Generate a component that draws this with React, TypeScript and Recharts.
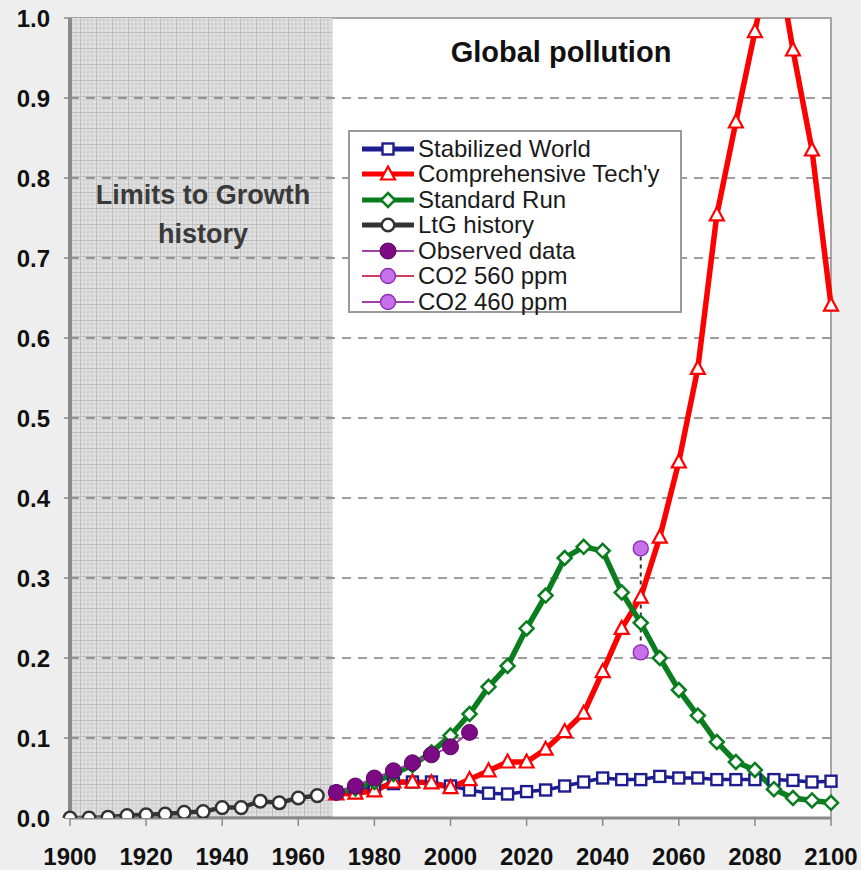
import React from 'react';
import { LineChart, Line, XAxis, YAxis, ReferenceArea, ReferenceLine, Legend } from 'recharts';

const modelYears = [1970, 1975, 1980, 1985, 1990, 1995, 2000, 2005, 2010, 2015, 2020, 2025, 2030, 2035, 2040, 2045, 2050, 2055, 2060, 2065, 2070, 2075, 2080, 2085, 2090, 2095, 2100];
const historyYears = [1900, 1905, 1910, 1915, 1920, 1925, 1930, 1935, 1940, 1945, 1950, 1955, 1960, 1965];
const observedYears = [1970, 1975, 1980, 1985, 1990, 1995, 2000, 2005];

const stabilizedWorld = [0.032, 0.034, 0.038, 0.043, 0.045, 0.045, 0.04, 0.035, 0.031, 0.03, 0.033, 0.035, 0.04, 0.045, 0.05, 0.048, 0.048, 0.052, 0.05, 0.05, 0.048, 0.048, 0.048, 0.048, 0.047, 0.045, 0.046];
const comprehensiveTech = [0.03, 0.031, 0.034, 0.045, 0.045, 0.044, 0.038, 0.048, 0.059, 0.07, 0.07, 0.086, 0.108, 0.131, 0.183, 0.237, 0.276, 0.351, 0.445, 0.562, 0.754, 0.87, 0.983, 1.1, 0.96, 0.835, 0.641];
const standardRun = [0.032, 0.037, 0.045, 0.055, 0.066, 0.082, 0.103, 0.13, 0.164, 0.19, 0.237, 0.278, 0.325, 0.339, 0.334, 0.282, 0.244, 0.2, 0.16, 0.128, 0.095, 0.07, 0.06, 0.036, 0.025, 0.022, 0.019];
const ltgHistory = [0.0, 0.0, 0.001, 0.003, 0.004, 0.005, 0.007, 0.008, 0.013, 0.013, 0.021, 0.019, 0.025, 0.028];
const observedData = [0.032, 0.04, 0.05, 0.059, 0.069, 0.079, 0.089, 0.107];
const co2Years = [2050];
const co2At560 = [0.337];
const co2At460 = [0.207];

const xTicks = [1900, 1920, 1940, 1960, 1980, 2000, 2020, 2040, 2060, 2080, 2100];
const yTicks = [0, 0.1, 0.2, 0.3, 0.4, 0.5, 0.6, 0.7, 0.8, 0.9, 1.0];
const gridLevels = [0.1, 0.2, 0.3, 0.4, 0.5, 0.6, 0.7, 0.8, 0.9];

const toPoints = (years: number[], values: number[]) => years.map((year, i) => ({ year, value: values[i] }));

const NAVY = '#1d1d8f';
const RED = '#ff0000';
const GREEN = '#0a7d1e';
const DARK = '#333333';
const PURPLE = '#7d0a85';
const VIOLET = '#c870ec';

type Shape = 'square' | 'triangle' | 'diamond' | 'open' | 'filled' | 'violet';

function marker(shape: Shape, cx: number, cy: number, color: string, key?: any) {
  switch (shape) {
    case 'square':
      return <rect key={key} x={cx - 5.5} y={cy - 5.5} width={11} height={11} fill="#fff" stroke={color} strokeWidth={2.4} />;
    case 'triangle':
      return <path key={key} d={`M${cx},${cy - 7.5} L${cx + 7},${cy + 5.5} L${cx - 7},${cy + 5.5} Z`} fill="#fff" stroke={color} strokeWidth={2.2} />;
    case 'diamond':
      return <path key={key} d={`M${cx},${cy - 7} L${cx + 7},${cy} L${cx},${cy + 7} L${cx - 7},${cy} Z`} fill="#fff" stroke={color} strokeWidth={2.5} />;
    case 'open':
      return <circle key={key} cx={cx} cy={cy} r={6.3} fill="#fff" stroke={color} strokeWidth={2.5} />;
    case 'filled':
      return <circle key={key} cx={cx} cy={cy} r={8} fill={color} stroke="#5a0660" strokeWidth={1} />;
    case 'violet':
      return <circle key={key} cx={cx} cy={cy} r={7.5} fill={VIOLET} stroke="#8a2fb0" strokeWidth={1.4} />;
  }
}

const makeDot = (shape: Shape, color: string) => (props: any) => {
  const { cx, cy, index } = props;
  if (cx == null || cy == null || isNaN(cx) || isNaN(cy)) return <g key={`e-${index}`} />;
  return marker(shape, cx, cy, color, `d-${shape}-${index}`);
};

const legendItems: { name: string; color: string; shape: Shape; width: number }[] = [
  { name: 'Stabilized World', color: NAVY, shape: 'square', width: 5 },
  { name: "Comprehensive Tech'y", color: RED, shape: 'triangle', width: 5 },
  { name: 'Standard Run', color: GREEN, shape: 'diamond', width: 5 },
  { name: 'LtG history', color: DARK, shape: 'open', width: 5 },
  { name: 'Observed data', color: '#a040a8', shape: 'filled', width: 2 },
  { name: 'CO2 560 ppm', color: '#d04060', shape: 'violet', width: 2 },
  { name: 'CO2 460 ppm', color: '#a040a8', shape: 'violet', width: 2 },
];

const LegendBox = () => (
  <div
    style={{
      width: 334,
      height: 183,
      boxSizing: 'border-box',
      background: '#fff',
      border: '2px solid #9a9a9a',
      padding: '4px 0 0 10px',
      fontFamily: '"Liberation Sans", Arial, sans-serif',
      fontSize: 24,
      color: '#1a1a1a',
    }}
  >
    {legendItems.map((it) => (
      <div key={it.name} style={{ display: 'flex', alignItems: 'center', height: 25.5, whiteSpace: 'nowrap' }}>
        <svg width={57} height={22} style={{ flex: 'none' }}>
          <line x1={2} y1={11} x2={54} y2={11} stroke={it.shape === 'filled' ? '#a040a8' : it.color} strokeWidth={it.width} />
          {marker(it.shape, 28, 11, it.shape === 'filled' ? PURPLE : it.color)}
        </svg>
        <span style={{ marginLeft: 1 }}>{it.name}</span>
      </div>
    ))}
  </div>
);

const tickStyle = { fill: '#111', fontSize: 24, fontWeight: 'bold' as const, fontFamily: '"Liberation Sans", Arial, sans-serif' };

export default function App() {
  return (
    <div style={{ position: 'absolute', left: 0, top: 0, width: 861, height: 870, background: '#eeeeee', overflow: 'hidden' }}>
      <LineChart width={861} height={870} margin={{ top: 18, right: 30, bottom: 0, left: 0 }}>
        <defs>
          <pattern id="ltgHatch" width="16" height="16" patternUnits="userSpaceOnUse">
            <rect width="16" height="16" fill="#e2e2e2" />
            <path d="M4 0V16M8 0V16M12 0V16M0 4H16M0 8H16M0 12H16" stroke="#cdcdcd" strokeWidth="1" />
            <path d="M0.5 0V16M0 0.5H16" stroke="#bdbdbd" strokeWidth="1" />
          </pattern>
        </defs>
        <XAxis
          dataKey="year"
          type="number"
          domain={[1900, 2100]}
          ticks={xTicks}
          allowDuplicatedCategory={false}
          height={52}
          tickSize={8}
          tickMargin={22}
          tick={tickStyle}
          axisLine={{ stroke: '#8a8a8a', strokeWidth: 3 }}
          tickLine={{ stroke: '#8a8a8a', strokeWidth: 1.5 }}
        />
        <YAxis
          type="number"
          domain={[0, 1]}
          allowDataOverflow
          ticks={yTicks}
          width={70}
          tickSize={6}
          tickMargin={14}
          tick={tickStyle}
          tickFormatter={(v: number) => v.toFixed(1)}
          axisLine={{ stroke: '#8a8a8a', strokeWidth: 4 }}
          tickLine={{ stroke: '#8a8a8a', strokeWidth: 1.5 }}
        />
        <ReferenceArea x1={1900} x2={2100} y1={0} y2={1} fill="#ffffff" fillOpacity={1} stroke="#a5a5a5" strokeWidth={2} />
        <ReferenceArea x1={1900} x2={1969} y1={0} y2={1} fill="url(#ltgHatch)" fillOpacity={1} stroke="none" />
        {gridLevels.map((g) => (
          <ReferenceLine key={g} y={g} stroke="#7c7c7c" strokeWidth={1.5} strokeDasharray="9 7" />
        ))}
        <Legend layout="vertical" align="center" verticalAlign="middle" content={() => <LegendBox />} wrapperStyle={{ position: 'absolute', left: 348, top: 130, width: 334, height: 183 }} />
        <Line name="Stabilized World" data={toPoints(modelYears, stabilizedWorld)} dataKey="value" stroke={NAVY} strokeWidth={3.5} dot={makeDot('square', NAVY)} isAnimationActive={false} />
        <Line name="Comprehensive Tech'y" data={toPoints(modelYears, comprehensiveTech)} dataKey="value" stroke={RED} strokeWidth={5.5} dot={makeDot('triangle', RED)} isAnimationActive={false} />
        <Line name="Standard Run" data={toPoints(modelYears, standardRun)} dataKey="value" stroke={GREEN} strokeWidth={5.5} dot={makeDot('diamond', GREEN)} isAnimationActive={false} />
        <Line name="LtG history" data={toPoints(historyYears, ltgHistory)} dataKey="value" stroke={DARK} strokeWidth={4.5} dot={makeDot('open', DARK)} isAnimationActive={false} />
        <Line name="Observed data" data={toPoints(observedYears, observedData)} dataKey="value" stroke="#a040a8" strokeWidth={2} dot={makeDot('filled', PURPLE)} isAnimationActive={false} />
        <Line name="CO2 range" legendType="none" data={[...toPoints(co2Years, co2At560), ...toPoints(co2Years, co2At460)]} dataKey="value" stroke="#333" strokeWidth={2} strokeDasharray="4 4" dot={false} isAnimationActive={false} />
        <Line name="CO2 560 ppm" data={toPoints(co2Years, co2At560)} dataKey="value" stroke="#d04060" dot={makeDot('violet', VIOLET)} isAnimationActive={false} />
        <Line name="CO2 460 ppm" data={toPoints(co2Years, co2At460)} dataKey="value" stroke="#a040a8" dot={makeDot('violet', VIOLET)} isAnimationActive={false} />
      </LineChart>
      <svg width={861} height={870} style={{ position: 'absolute', left: 0, top: 0, pointerEvents: 'none' }}>
        <g fontFamily='"Liberation Sans", Arial, sans-serif' fontWeight="bold" textAnchor="middle">
          <text x={561} y={62} fontSize={29} fill="#111">Global pollution</text>
          <text x={203} y={204} fontSize={27} fill="#3a3a3a">Limits to Growth</text>
          <text x={203} y={243} fontSize={27} fill="#3a3a3a">history</text>
        </g>
      </svg>
    </div>
  );
}
